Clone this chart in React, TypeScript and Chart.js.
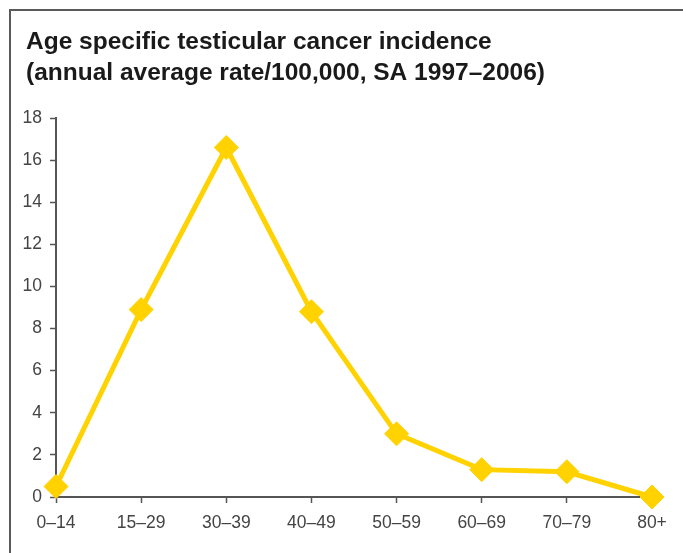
import React, { useEffect, useRef } from "react";
import { Chart, registerables } from "chart.js";

Chart.register(...registerables);

const titleLines = [
  "Age specific testicular cancer incidence",
  "(annual average rate/100,000, SA 1997–2006)",
];
const ageGroups = ["0–14", "15–29", "30–39", "40–49", "50–59", "60–69", "70–79", "80+"];
const incidenceRates = [0.5, 8.9, 16.6, 8.8, 3.0, 1.3, 1.2, 0.0];
const yTickStep = 2;
const yMax = 18;

const titleShift = {
  id: "titleShift",
  afterLayout(chart: any) {
    const tb = chart.titleBlock;
    if (tb) {
      tb.left = 26;
    }
  },
};

export default function App() {
  const canvasRef = useRef<HTMLCanvasElement | null>(null);

  useEffect(() => {
    const canvas = canvasRef.current;
    if (!canvas) return;
    const lineColor = "#FFD200";
    const axisColor = "#555555";
    const chart = new Chart(canvas, {
      type: "line",
      data: {
        labels: ageGroups,
        datasets: [
          {
            data: incidenceRates,
            borderColor: lineColor,
            backgroundColor: lineColor,
            borderWidth: 5,
            pointStyle: "rectRot",
            pointRadius: 12,
            pointHoverRadius: 12,
            pointBorderWidth: 1,
            pointBackgroundColor: lineColor,
            pointBorderColor: lineColor,
            tension: 0,
            clip: false as any,
          },
        ],
      },
      plugins: [titleShift],
      options: {
        animation: false,
        responsive: false,
        maintainAspectRatio: false,
        layout: { padding: { left: 16, right: 31, top: 0, bottom: 0 } },
        plugins: {
          legend: { display: false },
          tooltip: { enabled: false },
          title: {
            display: true,
            text: titleLines,
            align: "start",
            color: "#1a1a1a",
            font: { family: "'Liberation Sans', Arial, sans-serif", size: 24.5, weight: "bold", lineHeight: "30.5px" as any },
            padding: { top: 27, bottom: 30 },
          },
        },
        scales: {
          x: {
            type: "category",
            offset: false,
            grid: {
              display: true,
              drawOnChartArea: false,
              drawTicks: true,
              tickLength: 6,
              tickWidth: 1.5,
              tickColor: axisColor,
            },
            border: { display: true, color: axisColor, width: 2 },
            ticks: {
              color: "#444444",
              padding: 10,
              maxRotation: 0,
              autoSkip: false,
              font: { family: "'Liberation Sans', Arial, sans-serif", size: 17.5 },
            },
            afterFit: (scale: any) => {
              scale.height = 56;
            },
          },
          y: {
            min: 0,
            max: yMax,
            grid: {
              display: true,
              drawOnChartArea: false,
              drawTicks: true,
              tickLength: 6,
              tickWidth: 1.5,
              tickColor: axisColor,
            },
            border: { display: true, color: axisColor, width: 2 },
            ticks: {
              stepSize: yTickStep,
              color: "#444444",
              padding: 8,
              font: { family: "'Liberation Sans', Arial, sans-serif", size: 17.5 },
            },
            afterFit: (scale: any) => {
              scale.width = 40;
            },
          },
        },
      },
    });
    return () => chart.destroy();
  }, []);

  return (
    <div style={{ position: "fixed", left: 0, top: 0, width: 683, height: 553, background: "#ffffff", overflow: "hidden" }}>
      <div
        style={{
          position: "absolute",
          left: 9,
          top: 9,
          width: 720,
          height: 600,
          borderTop: "2px solid #5a5a5a",
          borderLeft: "2px solid #5a5a5a",
          boxSizing: "border-box",
        }}
      />
      <canvas ref={canvasRef} width={683} height={553} style={{ position: "absolute", left: 0, top: 0 }} />
    </div>
  );
}
